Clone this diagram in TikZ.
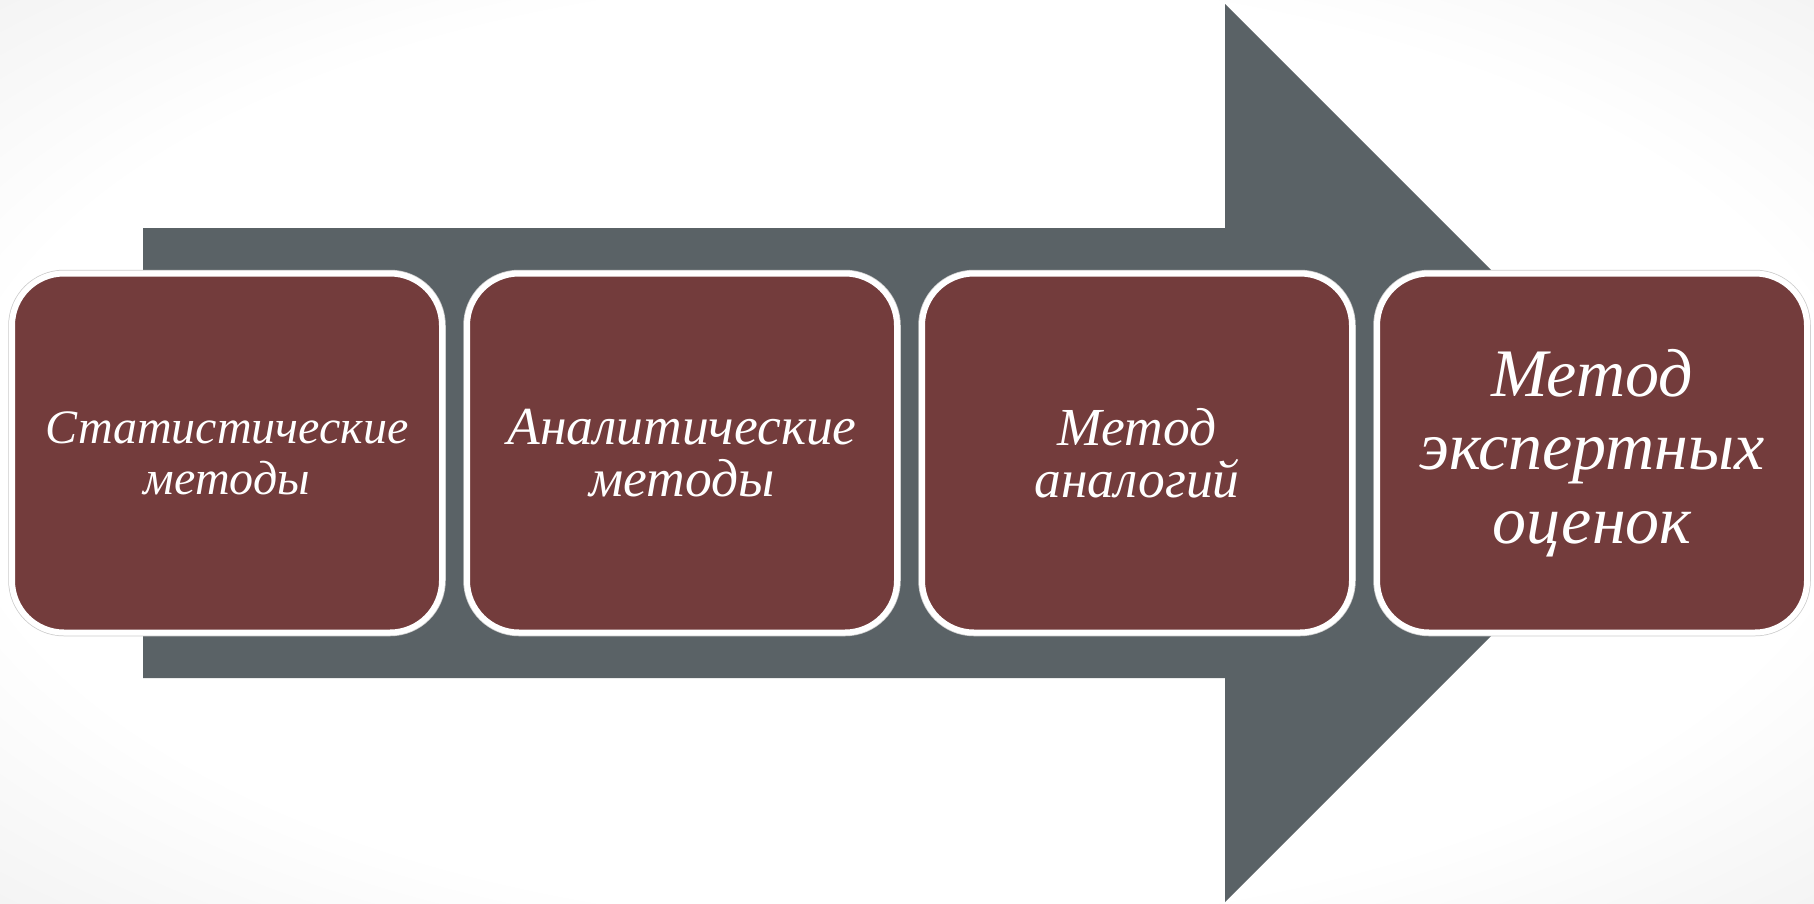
\documentclass[tikz,border=0pt]{standalone}
\usepackage{fontspec}
\setmainfont{Liberation Serif}
\definecolor{boxred}{HTML}{733C3C}
\definecolor{arrowgray}{HTML}{5A6266}
\pgfdeclareradialshading{bgshade}{\pgfpoint{0bp}{0bp}}{%
  color(0bp)=(white); color(26bp)=(white); color(50bp)=(black!11); color(72bp)=(black!19)}
\begin{document}
\begin{tikzpicture}[x=1pt,y=-1pt,
  methodbox/.style={draw=white, line width=6pt, fill=boxred, rounded corners=52pt,
    preaction={draw=black!20, line width=7.5pt},
    minimum width=430pt, minimum height=359pt, inner sep=0pt, align=center,
    text=white, font=\itshape\fontsize{48}{51}\selectfont},
  midtext/.style={font=\itshape\fontsize{53.5}{52}\selectfont},
  bigtext/.style={font=\itshape\fontsize{68}{73.5}\selectfont}]
\useasboundingbox (0,0) rectangle (1814,903);
\shade[shading=bgshade] (0,0) rectangle (1814,903);
% big arrow
\fill[arrowgray] (143,228) -- (1225,228) -- (1225,4) -- (1674,453) -- (1225,902) -- (1225,678) -- (143,678) -- cycle;
% boxes
\node[methodbox] (b1) at (227,453) {Статистические\\методы};
\node[methodbox, midtext] (b2) at (682,453) {Аналитические\\методы};
\node[methodbox, midtext] (b3) at (1137,453) {Метод\\аналогий};
\node[methodbox, bigtext] (b4) at (1592,453) {Метод\\экспертных\\оценок};
\end{tikzpicture}
\end{document}
